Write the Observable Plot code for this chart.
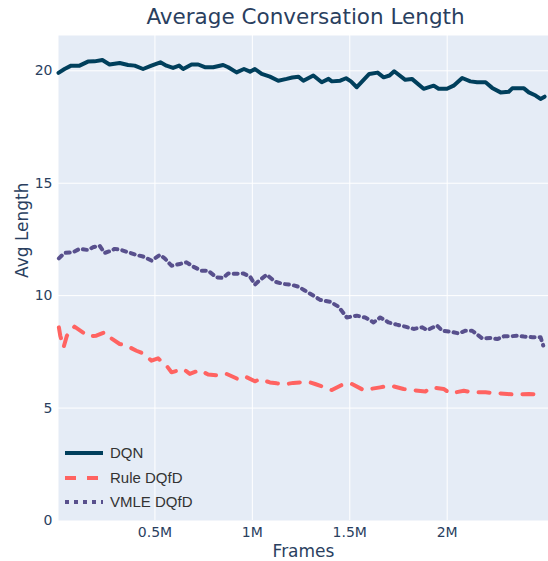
<!DOCTYPE html>
<html>
<head>
<meta charset="utf-8">
<script src="https://cdn.jsdelivr.net/npm/d3@7"></script>
<script src="https://cdn.jsdelivr.net/npm/@observablehq/plot@0.6"></script>
<style>
  html, body { margin: 0; padding: 0; background: #fff; }
  #chart { width: 548px; height: 561px; }
</style>
</head>
<body>
<div id="chart"></div>
<script>
const seriesNames = ["DQN", "Rule DQfD", "VMLE DQfD"];
const seriesColors = ["#003f5c", "#ff6361", "#58508d"];
const seriesDash = [null, "11,11", "4,5"];

// frames in millions
const dqnFrames = [0.005,0.036,0.07,0.113,0.156,0.19,0.23,0.267,0.319,0.362,0.396,0.439,0.482,0.528,0.559,0.593,0.624,0.645,0.688,0.722,0.756,0.799,0.85,0.876,0.919,0.957,0.988,1.013,1.048,1.09,1.133,1.176,1.205,1.236,1.262,1.313,1.356,1.391,1.408,1.451,1.481,1.506,1.536,1.6,1.643,1.674,1.704,1.728,1.785,1.819,1.879,1.931,1.956,1.999,2.033,2.077,2.119,2.154,2.197,2.231,2.274,2.316,2.334,2.394,2.419,2.454,2.479,2.5];
const dqnValues = [19.91,20.08,20.23,20.23,20.41,20.42,20.48,20.28,20.35,20.26,20.23,20.08,20.23,20.38,20.23,20.13,20.23,20.08,20.28,20.28,20.16,20.16,20.26,20.16,19.93,20.08,19.96,20.08,19.86,19.74,19.56,19.64,19.70,19.74,19.56,19.79,19.49,19.64,19.53,19.56,19.67,19.53,19.27,19.86,19.92,19.71,19.79,19.98,19.6,19.64,19.2,19.34,19.2,19.2,19.34,19.68,19.53,19.49,19.49,19.24,19.04,19.07,19.22,19.22,19.04,18.9,18.75,18.85];

const ruleFrames = [0.007,0.014,0.031,0.048,0.087,0.113,0.161,0.199,0.242,0.267,0.319,0.353,0.405,0.439,0.482,0.516,0.559,0.585,0.645,0.679,0.73,0.773,0.833,0.868,0.936,0.971,1.013,1.039,1.09,1.125,1.176,1.21,1.245,1.296,1.322,1.373,1.408,1.468,1.511,1.571,1.605,1.656,1.708,1.776,1.819,1.888,1.922,1.982,2.016,2.085,2.128,2.197,2.239,2.308,2.351,2.419,2.471,2.488];
const ruleValues = [8.59,8.22,7.7,8.22,8.62,8.47,8.18,8.22,8.37,8.15,7.85,7.78,7.55,7.43,7.11,7.21,6.89,6.59,6.74,6.52,6.69,6.49,6.44,6.52,6.25,6.37,6.19,6.29,6.14,6.1,6.07,6.12,6.14,6.14,6.07,5.92,5.8,6.07,6.07,5.8,5.85,5.92,6.0,5.85,5.8,5.74,5.92,5.85,5.65,5.77,5.7,5.7,5.67,5.63,5.6,5.63,5.6,5.63];

const vmleFrames = [0.007,0.036,0.079,0.113,0.156,0.182,0.216,0.242,0.276,0.293,0.328,0.362,0.405,0.439,0.482,0.525,0.55,0.585,0.628,0.662,0.696,0.739,0.773,0.816,0.85,0.876,0.919,0.953,0.988,1.013,1.039,1.074,1.116,1.159,1.202,1.236,1.271,1.313,1.348,1.399,1.442,1.485,1.536,1.579,1.622,1.656,1.699,1.742,1.785,1.828,1.871,1.897,1.948,1.974,2.016,2.059,2.094,2.128,2.18,2.222,2.257,2.291,2.325,2.36,2.394,2.437,2.479,2.493];
const vmleValues = [11.66,11.9,11.93,12.08,12.03,12.15,12.22,11.9,12.0,12.08,12.03,11.93,11.81,11.74,11.56,11.81,11.66,11.33,11.41,11.48,11.29,11.11,11.11,10.81,10.79,10.99,10.97,10.99,10.85,10.49,10.7,10.93,10.62,10.52,10.48,10.4,10.22,10.0,9.81,9.73,9.51,9.03,9.11,9.03,8.81,9.03,8.81,8.71,8.62,8.52,8.59,8.47,8.67,8.44,8.4,8.32,8.44,8.44,8.1,8.12,8.07,8.19,8.19,8.22,8.18,8.15,8.15,7.78];

const xTicks = [0.5, 1, 1.5, 2];
const yTicks = [0, 5, 10, 15, 20];
const titleText = "Average Conversation Length";
const xLabel = "Frames";
const yLabel = "Avg Length";

function zipSeries(name, xs, ys) {
  const n = Math.min(xs.length, ys.length);
  const out = [];
  for (let i = 0; i < n; i++) out.push({series: name, frames: xs[i], value: ys[i]});
  return out;
}
const dqn = zipSeries("DQN", dqnFrames, dqnValues);
const rule = zipSeries("Rule DQfD", ruleFrames, ruleValues);
const vmle = zipSeries("VMLE DQfD", vmleFrames, vmleValues);

const textColor = "#2a3f5f";
const fontFam = "Verdana, 'DejaVu Sans', sans-serif";

const chart = Plot.plot({
  width: 548,
  height: 561,
  marginLeft: 58,
  marginRight: 0,
  marginTop: 35,
  marginBottom: 41,
  style: {fontFamily: fontFam, color: textColor, background: "#fff", overflow: "visible"},
  x: {domain: [0.005, 2.52], ticks: xTicks, tickFormat: d => d + "M"},
  y: {domain: [0, 21.57], ticks: yTicks},
  marks: [
    Plot.frame({fill: "#e5ecf6", stroke: null}),
    Plot.gridX(xTicks, {stroke: "#fff", strokeOpacity: 1, strokeWidth: 1}),
    Plot.gridY(yTicks.filter(d => d > 0), {stroke: "#fff", strokeOpacity: 1, strokeWidth: 1}),
    Plot.axisX({ticks: xTicks, tickSize: 0, tickPadding: 7, fontSize: 14, label: null, tickFormat: d => d + "M", fill: textColor}),
    Plot.axisY({ticks: yTicks, tickSize: 0, tickPadding: 6, fontSize: 14, label: null, fill: textColor}),
    Plot.line(dqn, {x: "frames", y: "value", stroke: seriesColors[0], strokeWidth: 4, strokeLinejoin: "round"}),
    Plot.line(rule, {x: "frames", y: "value", stroke: seriesColors[1], strokeWidth: 4, strokeDasharray: seriesDash[1]}),
    Plot.line(vmle, {x: "frames", y: "value", stroke: seriesColors[2], strokeWidth: 4, strokeDasharray: seriesDash[2]}),
    Plot.text([titleText], {frameAnchor: "top", dx: 2, dy: -18, fontSize: 21.5, fill: textColor, lineAnchor: "middle"}),
    Plot.text([xLabel], {frameAnchor: "bottom", dy: 31, fontSize: 17, fill: textColor, lineAnchor: "middle"}),
    Plot.text([yLabel], {frameAnchor: "left", dx: -36, rotate: -90, fontSize: 17, fill: textColor, lineAnchor: "middle"})
  ]
});

// legend (inside plot area, bottom-left)
const svg = d3.select(chart);
const legend = svg.append("g").attr("class", "legend").attr("text-anchor", "start");
const legY = [453, 478, 502];
seriesNames.forEach((name, i) => {
  const g = legend.append("g").attr("transform", `translate(0,${legY[i]})`);
  g.append("line")
    .attr("x1", 65).attr("x2", 103).attr("y1", 0).attr("y2", 0)
    .attr("stroke", seriesColors[i]).attr("stroke-width", 4)
    .attr("stroke-dasharray", seriesDash[i] || null);
  g.append("text")
    .attr("x", 110).attr("y", 0).attr("dy", "0.35em")
    .attr("text-anchor", "start")
    .attr("font-family", "Arial, 'Liberation Sans', sans-serif")
    .attr("font-size", 15).attr("fill", "#333")
    .text(name);
});

document.getElementById("chart").appendChild(chart);
</script>
</body>
</html>
